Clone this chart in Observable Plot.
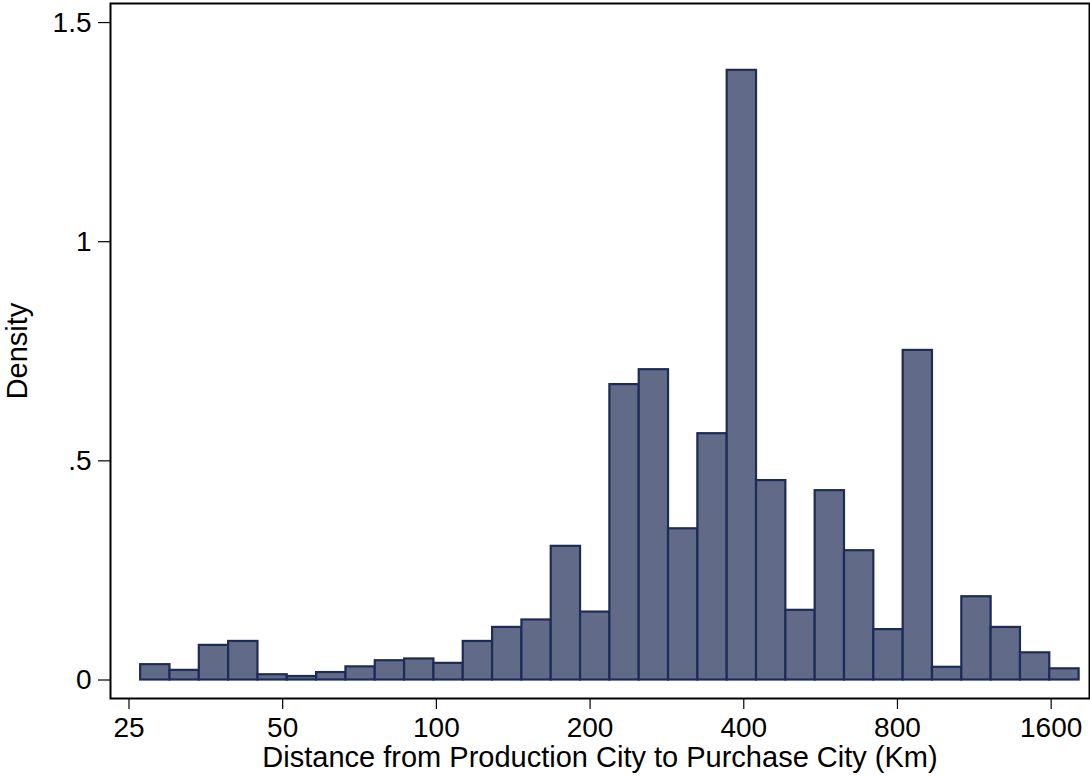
<!DOCTYPE html>
<html>
<head>
<meta charset="utf-8">
<script src="https://cdn.jsdelivr.net/npm/d3@7"></script>
<script src="https://cdn.jsdelivr.net/npm/@observablehq/plot@0.6"></script>
<style>
  html, body { margin: 0; padding: 0; background: #ffffff; }
  #chart svg { display: block; }
</style>
</head>
<body>
<div id="chart"></div>
<script>
// Histogram of log distance (bins equal width in log space)
const binStart = 26.35;   // km, lower edge of first bin
const binEnd = 1815;      // km, upper edge of last bin
const densities = [
  0.035, 0.022, 0.079, 0.088, 0.012, 0.008, 0.017, 0.030,
  0.044, 0.048, 0.038, 0.088, 0.120, 0.137, 0.305, 0.155,
  0.674, 0.708, 0.345, 0.562, 1.391, 0.455, 0.159, 0.432,
  0.295, 0.115, 0.752, 0.029, 0.190, 0.120, 0.062, 0.0255
];
const xTicks = [25, 50, 100, 200, 400, 800, 1600];
const xTickLabels = ["25", "50", "100", "200", "400", "800", "1600"];
const yTicks = [0, 0.5, 1, 1.5];
const yTickLabels = ["0", ".5", "1", "1.5"];
const xTitle = "Distance from Production City to Purchase City (Km)";
const yTitle = "Density";

const n = densities.length;
const ratio = Math.pow(binEnd / binStart, 1 / n);
const bins = densities.map((d, i) => ({
  x1: binStart * Math.pow(ratio, i),
  x2: binStart * Math.pow(ratio, i + 1),
  density: d
}));

const xTickData = xTicks.map((t, i) => ({ value: t, label: xTickLabels[i] }));
const yLabelOf = new Map(yTicks.map((t, i) => [Math.round(t * 10), yTickLabels[i]]));

const font = "'Liberation Sans', Arial, Helvetica, sans-serif";

const chart = Plot.plot({
  width: 1090,
  height: 776,
  marginLeft: 110,
  marginRight: 1,
  marginTop: 3,
  marginBottom: 78,
  style: { fontFamily: font, fontSize: "28px", color: "#000", background: "#fff" },
  x: { type: "log", domain: [23.0, 1902] },
  y: { domain: [-0.0422, 1.5435] },
  marks: [
    Plot.rect(bins, {
      x1: "x1", x2: "x2", y1: 0, y2: "density",
      fill: "#616b88", stroke: "#1d2b58", strokeWidth: 2.2, inset: 0
    }),
    Plot.frame({ stroke: "#000", strokeWidth: 2 }),
    Plot.axisX({
      ticks: xTicks,
      tickFormat: () => "",
      tickSize: 11, strokeWidth: 1.2,
      label: null
    }),
    Plot.text(xTickData, {
      x: "value", text: "label",
      frameAnchor: "bottom", lineAnchor: "top", dy: 19,
      fontSize: 28, fill: "#000"
    }),
    Plot.axisX({
      ticks: [],
      label: xTitle, labelAnchor: "center", labelArrow: "none", labelOffset: 68,
      fontSize: 29
    }),
    Plot.axisY({
      ticks: yTicks,
      tickFormat: (d) => yLabelOf.get(Math.round(d * 10)),
      tickSize: 12, tickPadding: 7, strokeWidth: 1.2,
      fontSize: 28,
      label: null
    }),
    Plot.axisY({
      ticks: [],
      label: yTitle, labelAnchor: "center", labelArrow: "none", labelOffset: 104,
      fontSize: 29
    })
  ]
});
document.getElementById("chart").appendChild(chart);
</script>
</body>
</html>
